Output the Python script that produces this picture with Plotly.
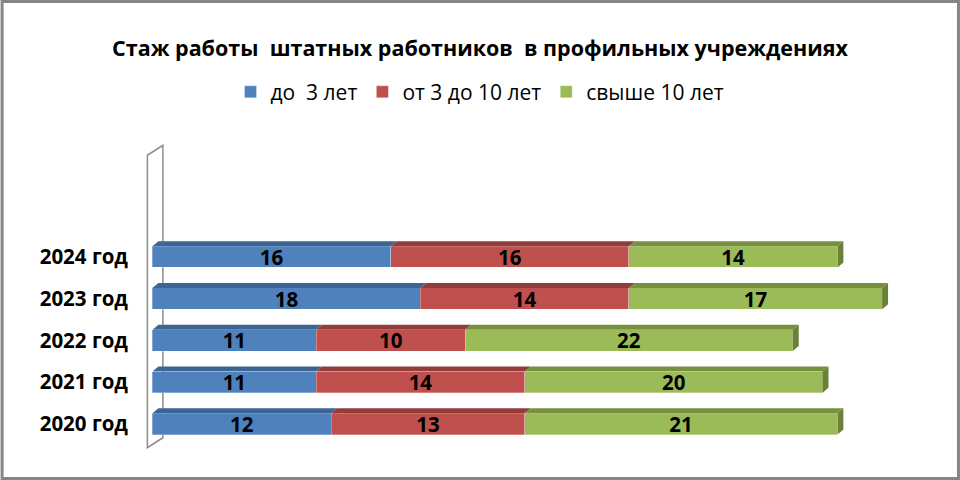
import plotly.graph_objects as go

# данные с диаграммы
years = ["2020 год", "2021 год", "2022 год", "2023 год", "2024 год"]
do_3 = [12, 11, 11, 18, 16]
ot_3_do_10 = [13, 14, 10, 14, 16]
svyshe_10 = [21, 20, 22, 17, 14]

series_names = ["до  3 лет", "от 3 до 10 лет", "свыше 10 лет"]
colors = ["#4F81BD", "#C0504D", "#9BBB59"]
top_colors = ["#3C6593", "#933D3B", "#76903F"]
side_color = "#6A8137"

FONT = "Open Sans"
BAR_W = 0.51
DX, DY = 0.4, 0.12  # псевдо-3D сдвиг (в единицах осей)

W, H = 960, 480
ML, MR, MT, MB = 144.5, 63, 144, 31

fig = go.Figure()
for name, vals, col in zip(series_names, [do_3, ot_3_do_10, svyshe_10], colors):
    fig.add_trace(go.Bar(
        y=list(range(len(years))), x=vals, name=name, orientation="h",
        marker=dict(color=col, line=dict(width=0.6, color="rgba(255,255,255,0.5)")),
        width=BAR_W, text=vals, textposition="inside", insidetextanchor="middle",
        textangle=0, constraintext="none",
        textfont=dict(family=FONT, size=20.5, color="black", weight="bold"),
    ))

shapes = []
# задняя стенка
shapes.append(dict(
    type="path", xref="x", yref="y", layer="below",
    path="M -0.34,-0.57 L -0.34,6.43 L 0.7,6.67 L 0.7,-0.33 Z",
    line=dict(color="#8C8C8C", width=1.5), fillcolor="white",
))
# верхние и боковые грани столбиков
for i in range(len(years)):
    start = 0
    segs = [do_3[i], ot_3_do_10[i], svyshe_10[i]]
    yt = i + BAR_W / 2
    yb = i - BAR_W / 2
    for k, v in enumerate(segs):
        x0, x1 = start, start + v
        shapes.append(dict(
            type="path", xref="x", yref="y", layer="above",
            path=f"M {x0},{yt} L {x1},{yt} L {x1 + DX},{yt + DY} L {x0 + DX},{yt + DY} Z",
            fillcolor=top_colors[k], line=dict(width=0),
        ))
        start = x1
    shapes.append(dict(
        type="path", xref="x", yref="y", layer="above",
        path=f"M {start},{yb} L {start},{yt} L {start + DX},{yt + DY} L {start + DX},{yb + DY} Z",
        fillcolor=side_color, line=dict(width=0),
    ))
# рамка диаграммы
pw, ph = W - ML - MR, H - MT - MB
shapes.append(dict(type="rect", xref="paper", yref="paper",
                   x0=-(ML - 1.5) / pw, x1=1 + (MR - 1.5) / pw,
                   y0=-(MB - 1.5) / ph, y1=1 + (MT - 1.5) / ph,
                   line=dict(width=3, color="#868686")))

fig.update_layout(
    barmode="stack",
    width=W, height=H,
    margin=dict(l=ML, r=MR, t=MT, b=MB),
    paper_bgcolor="white", plot_bgcolor="rgba(0,0,0,0)",
    title=dict(text="<b>Стаж работы  штатных работников  в профильных учреждениях</b>",
               x=0.5, xref="container", xanchor="center", y=0.9, yanchor="middle",
               font=dict(family=FONT, size=21.5, color="black")),
    legend=dict(orientation="h", xref="container", x=0.5, xanchor="center",
                yref="container", y=0.808, yanchor="middle",
                font=dict(family=FONT, size=21, color="black"),
                traceorder="normal", itemwidth=30),
    xaxis=dict(range=[-0.5, 50], visible=False, showgrid=False, zeroline=False),
    yaxis=dict(range=[-0.6, 6.7], tickvals=list(range(len(years))), ticktext=years,
               showgrid=False, zeroline=False, showline=False, ticks="",
               ticklabelstandoff=16,
               tickfont=dict(family=FONT, size=20.5, color="black", weight="bold")),
    shapes=shapes,
)

fig.write_html("out.html", config={"displayModeBar": False},
               post_script="document.body.style.margin='0';")
